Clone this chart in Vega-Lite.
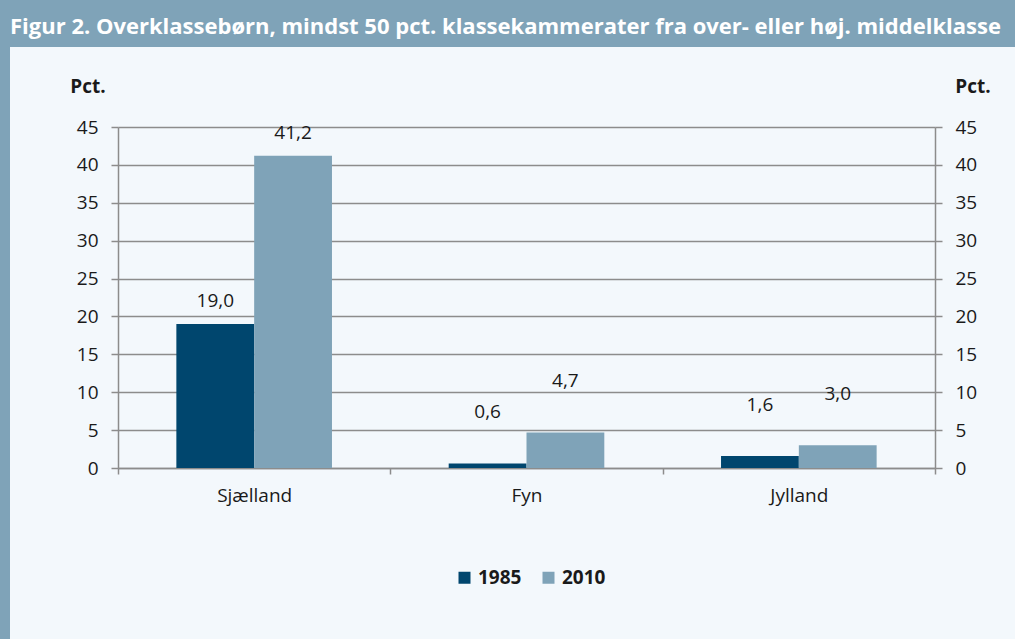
{
  "$schema": "https://vega.github.io/schema/vega-lite/v6.json",
  "width": 1005,
  "height": 592,
  "autosize": {"type": "none"},
  "padding": {"left": 10, "top": 47, "right": 0, "bottom": 0},
  "background": "#7fa3b8",
  "view": {"fill": "#f3f8fc", "stroke": null},
  "title": {
    "text": "Figur 2. Overklassebørn, mindst 50 pct. klassekammerater fra over- eller høj. middelklasse",
    "anchor": "start",
    "frame": "group",
    "orient": "top",
    "offset": -9,
    "baseline": "alphabetic",
    "color": "#ffffff",
    "font": "Open Sans",
    "fontSize": 22,
    "fontWeight": "bold"
  },
  "data": {
    "values": [
      {"region": "Sjælland", "year": "1985", "value": 19.0},
      {"region": "Sjælland", "year": "2010", "value": 41.2},
      {"region": "Fyn", "year": "1985", "value": 0.6},
      {"region": "Fyn", "year": "2010", "value": 4.7},
      {"region": "Jylland", "year": "1985", "value": 1.6},
      {"region": "Jylland", "year": "2010", "value": 3.0}
    ]
  },
  "encoding": {
    "x": {
      "field": "region",
      "type": "nominal",
      "sort": ["Sjælland", "Fyn", "Jylland"],
      "scale": {"type": "band", "range": [108, 925], "paddingInner": 0, "paddingOuter": 0},
      "axis": {
        "title": null,
        "offset": -171,
        "tickBand": "extent",
        "labelAngle": 0,
        "grid": false,
        "domainColor": "#8c8c8c",
        "domainWidth": 1.5,
        "tickColor": "#8c8c8c",
        "tickWidth": 1.5,
        "tickSize": 6,
        "labelPadding": 12,
        "labelFont": "Open Sans",
        "labelFontSize": 19,
        "labelColor": "#1a1a1a"
      }
    },
    "xOffset": {
      "field": "year",
      "type": "nominal",
      "scale": {"paddingInner": 0, "paddingOuter": 0.75}
    }
  },
  "layer": [
    {
      "mark": {"type": "bar"},
      "encoding": {
        "y": {
          "field": "value",
          "type": "quantitative",
          "scale": {"domain": [0, 45], "range": [421, 80], "nice": false},
          "axis": {
            "orient": "left",
            "offset": -108,
            "values": [0, 5, 10, 15, 20, 25, 30, 35, 40, 45],
            "title": "Pct.",
            "titleAngle": 0,
            "titleX": -30.5,
            "titleY": 45,
            "titleAlign": "center",
            "titleBaseline": "alphabetic",
            "titleFont": "Open Sans",
            "titleFontSize": 19,
            "titleFontWeight": "bold",
            "titleColor": "#1a1a1a",
            "grid": true,
            "gridColor": "#8c8c8c",
            "gridWidth": 1.5,
            "domainColor": "#8c8c8c",
            "domainWidth": 1.5,
            "tickColor": "#8c8c8c",
            "tickWidth": 1.5,
            "tickSize": 7,
            "labelPadding": 13,
            "labelFont": "Open Sans",
            "labelFontSize": 19,
            "labelColor": "#1a1a1a"
          }
        },
        "color": {
          "field": "year",
          "type": "nominal",
          "scale": {"domain": ["1985", "2010"], "range": ["#00466e", "#7fa3b8"]},
          "legend": {
            "orient": "none",
            "legendX": 445,
            "legendY": 521,
            "direction": "horizontal",
            "title": null,
            "padding": 0,
            "symbolType": "square",
            "symbolSize": 144,
            "symbolStrokeWidth": 0,
            "symbolOpacity": 1,
            "labelFont": "Open Sans",
            "labelFontSize": 19,
            "labelFontWeight": "bold",
            "labelColor": "#1a1a1a",
            "labelOffset": 4,
            "columnPadding": 17
          }
        }
      }
    },
    {
      "transform": [{"filter": "datum.region === 'Sjælland'"}],
      "mark": {"type": "text", "baseline": "alphabetic", "dy": -17, "font": "Open Sans", "fontSize": 19, "color": "#1a1a1a"},
      "encoding": {
        "y": {
          "field": "value",
          "type": "quantitative",
          "scale": {"domain": [0, 45], "range": [421, 80], "nice": false},
          "axis": {
            "orient": "right",
            "offset": -80,
            "values": [0, 5, 10, 15, 20, 25, 30, 35, 40, 45],
            "title": "Pct.",
            "titleAngle": 0,
            "titleX": 37.5,
            "titleY": 45,
            "titleAlign": "center",
            "titleBaseline": "alphabetic",
            "titleFont": "Open Sans",
            "titleFontSize": 19,
            "titleFontWeight": "bold",
            "titleColor": "#1a1a1a",
            "grid": false,
            "domainColor": "#8c8c8c",
            "domainWidth": 1.5,
            "tickColor": "#8c8c8c",
            "tickWidth": 1.5,
            "tickSize": 7,
            "labelPadding": 13,
            "labelFont": "Open Sans",
            "labelFontSize": 19,
            "labelColor": "#1a1a1a"
          }
        },
        "text": {"field": "value", "type": "quantitative", "format": ".1f"}
      }
    },
    {
      "transform": [{"filter": "datum.region !== 'Sjælland'"}],
      "mark": {"type": "text", "baseline": "alphabetic", "dy": -45, "font": "Open Sans", "fontSize": 19, "color": "#1a1a1a"},
      "encoding": {
        "y": {
          "field": "value",
          "type": "quantitative",
          "scale": {"domain": [0, 45], "range": [421, 80], "nice": false},
          "axis": null
        },
        "text": {"field": "value", "type": "quantitative", "format": ".1f"}
      }
    }
  ],
  "resolve": {"scale": {"y": "independent"}, "axis": {"y": "independent"}},
  "config": {
    "font": "Open Sans",
    "locale": {
      "number": {"decimal": ",", "thousands": ".", "grouping": [3], "currency": ["", " kr."]}
    }
  }
}
